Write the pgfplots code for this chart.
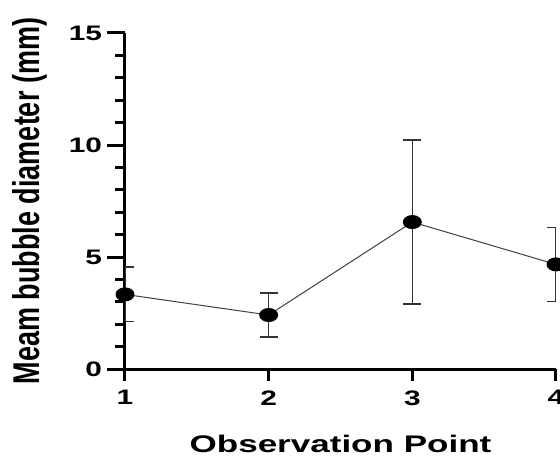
\documentclass[border=0pt]{standalone}
\usepackage{pgfplots}
\pgfplotsset{compat=1.18}
\usepackage{fontspec}
\setmainfont{Liberation Sans}
\begin{document}
\begin{tikzpicture}
\begin{axis}[
  scale only axis, width=431pt, height=336pt,
  xmin=1, xmax=4, ymin=0, ymax=15,
  axis x line=bottom, axis y line=left,
  axis line style={line width=3pt, -},
  xtick={1,2,3,4}, ytick={0,5,10,15}, minor y tick num=4,
  tick align=outside,
  major tick length=18pt, minor tick length=10pt,
  every tick/.style={black, line width=3pt},
  xtick style={/pgfplots/major tick length=12pt},
  /pgf/number format/assume math mode=true,
  tick label style={font=\fontsize{21}{21}\selectfont\bfseries},
  xticklabel style={xscale=1.42},
  yticklabel style={xscale=1.42},
  xlabel={Observation Point},
  every axis x label/.style={font=\fontsize{24}{24}\selectfont\bfseries, at={(axis description cs:0.5,0)}, anchor=base, yshift=-83pt, xscale=1.46},
  ylabel={Meam bubble diameter (mm)},
  every axis y label/.style={font=\fontsize{27}{27}\selectfont\bfseries, at={(axis description cs:0,0.5)}, xshift=-95pt, anchor=center, rotate=90, yscale=1.38},
  clip mode=individual,
]
\addplot[black!75, line width=1pt, mark=*, mark size=6.5pt, mark options={black, fill=black, xscale=1.38},
  error bars/.cd, y dir=both, y explicit,
  error bar style={black!80, line width=1.2pt},
  error mark options={rotate=90, mark size=9pt, line width=1.2pt, black!80}]
  table[x=x, y=y, y error=err] {
x y err
1 3.33 1.22
2 2.41 0.98
3 6.56 3.66
4 4.67 1.66
};
\coordinate (bl) at (rel axis cs:0,0);
\coordinate (tr) at (rel axis cs:1,1);
\end{axis}
\pgfresetboundingbox
\path[use as bounding box] ([xshift=-125pt,yshift=-89pt]bl) rectangle ([xshift=4pt,yshift=33pt]tr);
\end{tikzpicture}
\end{document}
